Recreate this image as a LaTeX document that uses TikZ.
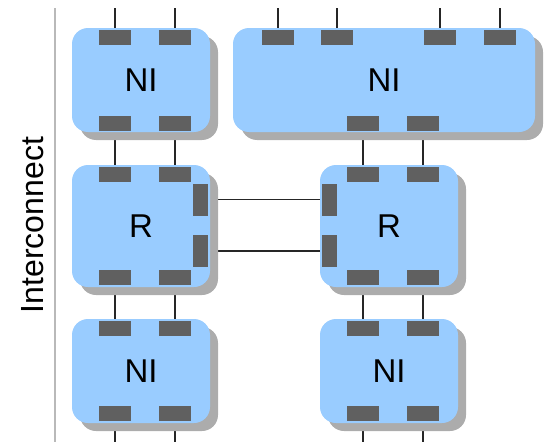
\documentclass[tikz,border=0pt]{standalone}
\usepackage{fontspec}
\setmainfont{Liberation Sans}
\usetikzlibrary{shadows,backgrounds}

\definecolor{boxblue}{RGB}{153,204,255}
\definecolor{portgray}{RGB}{96,96,96}
\definecolor{shadowgray}{RGB}{172,172,172}
\definecolor{railgray}{RGB}{185,185,185}

\tikzset{
    unit/.style={fill=boxblue, rounded corners=16pt, inner sep=0pt,
        drop shadow={shadow xshift=8pt, shadow yshift=-8pt, fill=shadowgray, opacity=1},
        font=\fontsize{33}{36}\selectfont},
    port/.style={fill=portgray, inner sep=0pt, minimum width=32pt, minimum height=15pt},
    vport/.style={port, minimum width=15pt, minimum height=32pt},
    wire/.style={line width=1.2pt, black!85}
}

\begin{document}
\begin{tikzpicture}[x=1pt, y=-1pt]
            \useasboundingbox (0, 0) rectangle (547, 442);
            \coordinate (top) at (0, 8);
            \coordinate (bot) at (0, 442);

            \draw[railgray, line width=1.8pt] (55, 8) -- (55, 442);
            \node[rotate=90, font=\fontsize{32}{36}\selectfont] (title) at (33, 225) {Interconnect};

            \node[unit, minimum width=138pt, minimum height=104pt] (ni1) at (141, 80) {NI};
            \node[unit, minimum width=302pt, minimum height=104pt] (ni2) at (384, 80) {NI};
            \node[unit, minimum width=138pt, minimum height=122pt] (r1) at (141, 226) {R};
            \node[unit, minimum width=138pt, minimum height=122pt] (r2) at (389, 226) {R};
            \node[unit, minimum width=138pt, minimum height=104pt] (ni3) at (141, 371) {NI};
            \node[unit, minimum width=138pt, minimum height=104pt] (ni4) at (389, 371) {NI};

            \foreach \x [count=\i] in {115, 175} {
                \node[port] (ni1-t\i) at (\x, 37.5) {};
                \node[port] (ni1-b\i) at (\x, 123.5) {};
                \node[port] (r1-t\i) at (\x, 174.5) {};
                \node[port] (r1-b\i) at (\x, 277.5) {};
                \node[port] (ni3-t\i) at (\x, 328.5) {};
                \node[port] (ni3-b\i) at (\x, 413.5) {};
            }
            \foreach \x [count=\i] in {278, 337, 440, 500} {
                \node[port] (ni2-t\i) at (\x, 37.5) {};
            }
            \foreach \x [count=\i] in {363, 423} {
                \node[port] (ni2-b\i) at (\x, 123.5) {};
                \node[port] (r2-t\i) at (\x, 174.5) {};
                \node[port] (r2-b\i) at (\x, 277.5) {};
                \node[port] (ni4-t\i) at (\x, 328.5) {};
                \node[port] (ni4-b\i) at (\x, 413.5) {};
            }
            \foreach \y [count=\i] in {199.5, 251} {
                \node[vport] (r1-e\i) at (200.5, \y) {};
                \node[vport] (r2-w\i) at (329, \y) {};
            }

            \begin{scope}[on background layer]
                \foreach \p in {ni1-t1, ni1-t2, ni2-t1, ni2-t2, ni2-t3, ni2-t4} {
                    \draw[wire] (\p.north) -- (\p |- top);
                }
                \foreach \p in {ni3-b1, ni3-b2, ni4-b1, ni4-b2} {
                    \draw[wire] (\p.south) -- (\p |- bot);
                }
                \foreach \i in {1, 2} {
                    \draw[wire] (ni1-b\i) -- (r1-t\i);
                    \draw[wire] (ni2-b\i) -- (r2-t\i);
                    \draw[wire] (r1-b\i) -- (ni3-t\i);
                    \draw[wire] (r2-b\i) -- (ni4-t\i);
                    \draw[wire] (r1-e\i) -- (r2-w\i);
                }
            \end{scope}
        \end{tikzpicture}
\end{document}
